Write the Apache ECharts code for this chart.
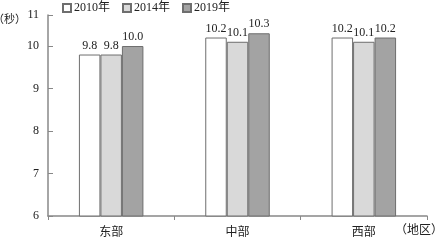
<!DOCTYPE html>
<html><head><meta charset="utf-8">
<script src="https://cdn.jsdelivr.net/npm/echarts@6/dist/echarts.min.js"></script>
<style>html,body{margin:0;padding:0;background:#fff}#c{width:444px;height:240px}</style>
</head><body><div id="c"></div>
<script>
const categories = ['东部', '中部', '西部'];
const seriesNames = ['2010年', '2014年', '2019年'];
const v2010 = [9.8, 10.2, 10.2];
const v2014 = [9.8, 10.1, 10.1];
const v2019 = [10.0, 10.3, 10.2];
const yTickLabels = ['6', '7', '8', '9', '10', '11'];
const yName = '（秒）';
const xName = '（地区）';

const FONT = '"Liberation Serif", "Times New Roman", "Noto Sans CJK SC", serif';
const colors = ['#ffffff', '#d9d9d9', '#a3a3a3'];
const values = [v2010, v2014, v2019];

const chart = echarts.init(document.getElementById('c'), null, {renderer: 'canvas'});
chart.setOption({
  animation: false,
  textStyle: {fontFamily: FONT},
  legend: {
    orient: 'horizontal', top: 2, left: 62, padding: 0, width: 300, itemWidth: 8, itemHeight: 8, itemGap: 12, icon: 'rect',
    textStyle: {fontFamily: FONT, fontSize: 12, color: '#222', padding: [0, 0, 0, -2]},
    data: seriesNames
  },
  grid: {left: 48, right: 17, top: 15, bottom: 24, outerBoundsMode: 'none', containLabel: false},
  xAxis: {
    type: 'category', data: categories,
    name: xName, nameLocation: 'end', nameGap: 16, nameMoveOverlap: false,
    nameTextStyle: {fontFamily: FONT, fontSize: 12, color: '#222', align: 'right', verticalAlign: 'top', padding: [9, 0, 0, 0]},
    axisLine: {lineStyle: {color: '#888', width: 1.5}},
    axisTick: {show: true, length: 4, lineStyle: {color: '#888'}},
    axisLabel: {fontFamily: FONT, fontSize: 12, color: '#222', margin: 11}
  },
  yAxis: {
    type: 'value', min: 6, max: 10.73, interval: 1,
    name: yName, nameLocation: 'end', nameGap: -5, nameMoveOverlap: false,
    nameTextStyle: {fontFamily: FONT, fontSize: 11, color: '#222', align: 'right', verticalAlign: 'middle', padding: [0, 22, 0, 0]},
    splitLine: {show: false},
    axisLine: {show: true, lineStyle: {color: '#888', width: 1.5}},
    axisTick: {show: true, inside: true, length: 5, lineStyle: {color: '#888'}},
    axisLabel: {fontFamily: FONT, fontSize: 12, color: '#222', margin: 9,
      formatter: v => yTickLabels[Math.round(v) - 6]}
  },
  series: seriesNames.map((n, i) => ({
    name: n, type: 'bar', data: values[i],
    barWidth: 21.5, barGap: '0%',
    itemStyle: {color: colors[i], borderColor: '#6e6e6e', borderWidth: 1},
    label: {show: true, position: 'top', distance: 3, fontFamily: FONT, fontSize: 12, color: '#222',
      formatter: p => p.value.toFixed(1)}
  }))
});
</script></body></html>
